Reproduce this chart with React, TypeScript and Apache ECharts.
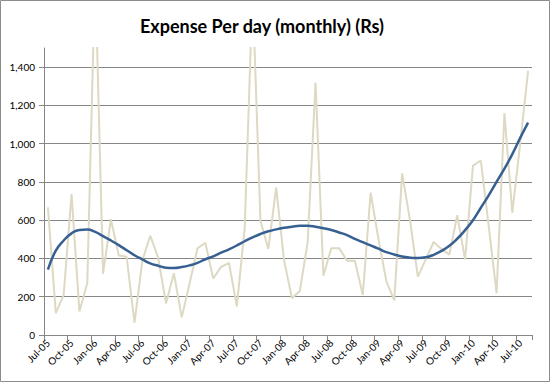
import React, { useEffect, useRef } from "react";
import * as echarts from "echarts";

const months: string[] = [
  "Jul-05", "Aug-05", "Sep-05", "Oct-05", "Nov-05", "Dec-05",
  "Jan-06", "Feb-06", "Mar-06", "Apr-06", "May-06", "Jun-06",
  "Jul-06", "Aug-06", "Sep-06", "Oct-06", "Nov-06", "Dec-06",
  "Jan-07", "Feb-07", "Mar-07", "Apr-07", "May-07", "Jun-07",
  "Jul-07", "Aug-07", "Sep-07", "Oct-07", "Nov-07", "Dec-07",
  "Jan-08", "Feb-08", "Mar-08", "Apr-08", "May-08", "Jun-08",
  "Jul-08", "Aug-08", "Sep-08", "Oct-08", "Nov-08", "Dec-08",
  "Jan-09", "Feb-09", "Mar-09", "Apr-09", "May-09", "Jun-09",
  "Jul-09", "Aug-09", "Sep-09", "Oct-09", "Nov-09", "Dec-09",
  "Jan-10", "Feb-10", "Mar-10", "Apr-10", "May-10", "Jun-10",
  "Jul-10", "Aug-10",
];

const expensePerDay: number[] = [
  667, 114, 210, 737, 123, 272, 1900, 319, 605, 416, 409, 65,
  390, 519, 405, 165, 323, 92, 270, 453, 482, 295, 356, 377,
  150, 560, 1800, 597, 450, 770, 390, 192, 230, 485, 1320, 310,
  454, 454, 388, 388, 209, 744, 500, 280, 181, 845, 600, 305,
  395, 486, 450, 420, 626, 395, 885, 912, 570, 218, 1160, 640,
  1000, 1380,
];

const trendValues: number[] = [
  342, 441, 494, 531, 549, 551, 539, 517, 494, 470, 443, 417,
  395, 374, 362, 352, 350, 355, 364, 377, 396, 411, 430, 448,
  468, 490, 510, 528, 542, 552, 560, 566, 571, 571, 566, 558,
  549, 536, 522, 502, 485, 468, 451, 433, 421, 410, 404, 402,
  406, 419, 440, 466, 503, 548, 600, 665, 730, 800, 870, 945,
  1030, 1110,
];

const yTicks: number[] = [0, 200, 400, 600, 800, 1000, 1200, 1400];

const titleText = "Expense Per day (monthly) (Rs)";

export default function App() {
  const ref = useRef<HTMLDivElement>(null);

  useEffect(() => {
    if (!ref.current) return;
    const chart = echarts.init(ref.current, undefined, { renderer: "svg" });
    const fmt = (v: number) => String(v).replace(/\B(?=(\d{3})+(?!\d))/g, ",");
    chart.setOption({
      animation: false,
      backgroundColor: "#ffffff",
      textStyle: { fontFamily: "Lato" },
      title: {
        text: titleText,
        left: 257,
        top: 12,
        textAlign: "center",
        textStyle: { fontFamily: "Lato", fontWeight: "bold", fontSize: 18, color: "#000000" },
      },
      graphic: [
        {
          type: "rect",
          shape: { x: 0.5, y: 0.5, width: 549, height: 381 },
          style: { fill: "none", stroke: "#8c8c8c", lineWidth: 1 },
          silent: true,
        },
      ],
      grid: { left: 44, right: 20, top: 48, bottom: 49, containLabel: false },
      xAxis: {
        type: "category",
        data: months,
        boundaryGap: true,
        axisLine: { lineStyle: { color: "#868686", width: 1 } },
        axisTick: { show: true, interval: 2, length: 5, lineStyle: { color: "#868686" } },
        axisLabel: {
          interval: 2,
          rotate: 45,
          fontSize: 10,
          fontFamily: "Lato",
          color: "#000000",
          margin: 6,
        },
        splitLine: { show: false },
      },
      yAxis: {
        type: "value",
        min: 0,
        max: 1500,
        interval: 200,
        axisLine: { show: true, lineStyle: { color: "#868686", width: 1 } },
        axisTick: { show: true, length: 5, lineStyle: { color: "#868686" }, customValues: yTicks },
        axisLabel: {
          fontSize: 10,
          fontFamily: "Lato",
          color: "#000000",
          margin: 9,
          customValues: yTicks,
          formatter: (v: number) => fmt(v),
        },
        splitLine: { show: true, lineStyle: { color: "#868686", width: 1 } },
      },
      series: [
        {
          name: "Expense Per day",
          type: "line",
          data: expensePerDay,
          symbol: "none",
          clip: true,
          lineStyle: { color: "#DDD9C3", width: 2 },
          z: 2,
        },
        {
          name: "Trend",
          type: "line",
          data: trendValues,
          symbol: "none",
          smooth: true,
          clip: true,
          lineStyle: { color: "#376092", width: 2.5 },
          z: 3,
        },
      ],
    });
    return () => chart.dispose();
  }, []);

  return (
    <div
      ref={ref}
      style={{ position: "fixed", left: 0, top: 0, width: 552, height: 384 }}
    />
  );
}
